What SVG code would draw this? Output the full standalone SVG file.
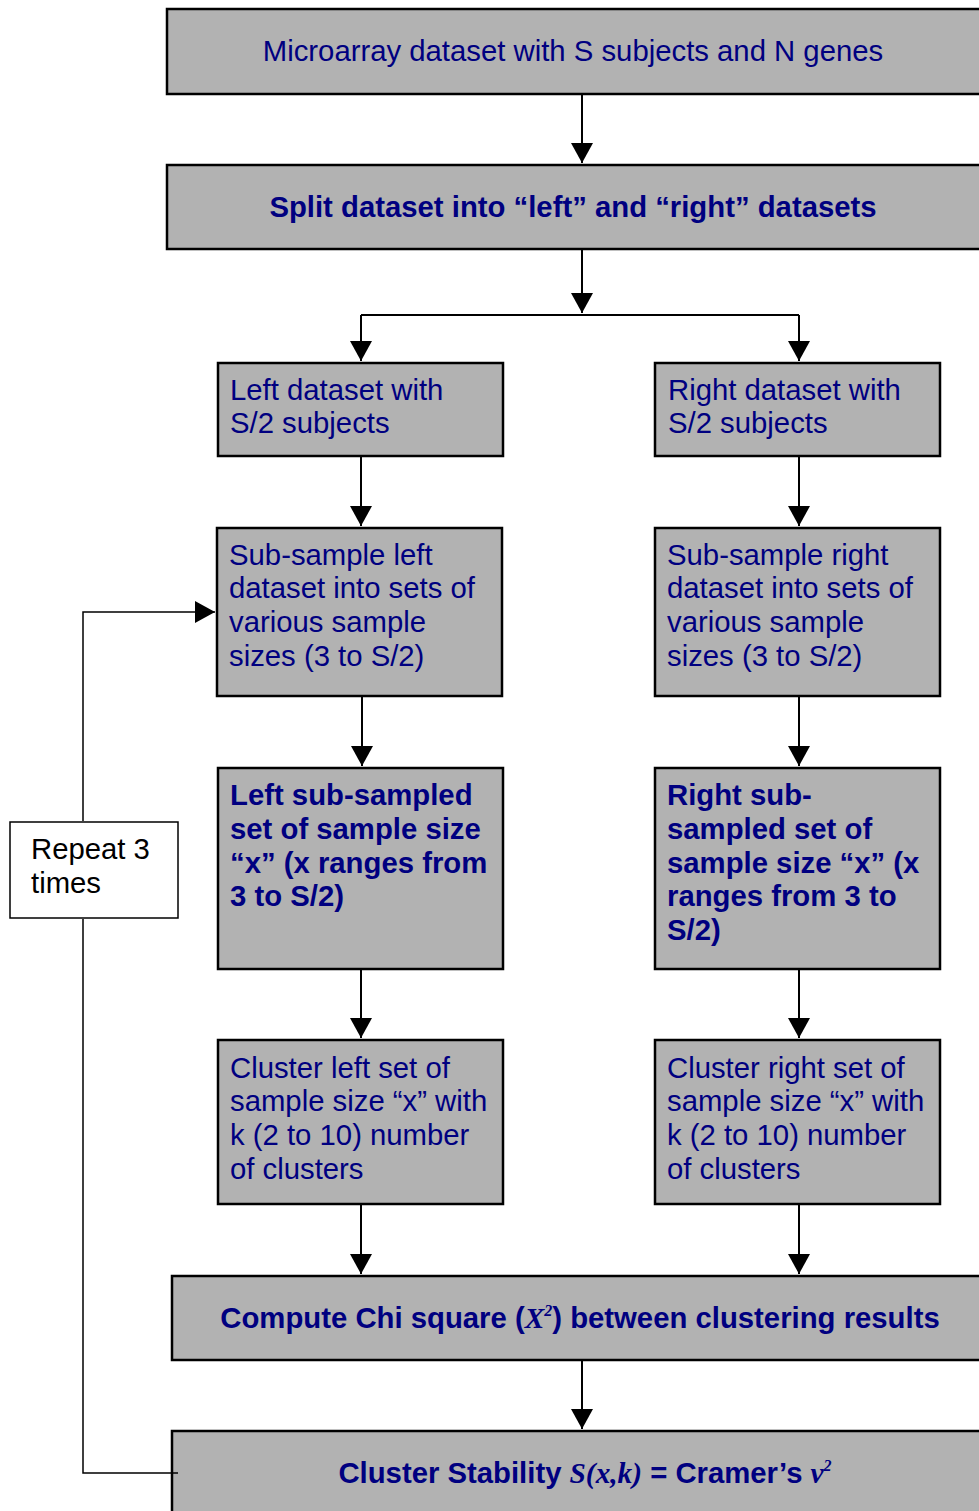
<svg xmlns="http://www.w3.org/2000/svg" width="979" height="1511" viewBox="0 0 979 1511">
<style>
.box{fill:#b2b2b2;stroke:#000;stroke-width:2.5}
.rep{fill:#fff;stroke:#000;stroke-width:1.5}
.t{font-family:"Liberation Sans",Arial,sans-serif;font-size:29.3px;fill:#000080}
.b{font-weight:bold}
.m{font-family:"Liberation Serif","Times New Roman",serif;font-style:italic;font-weight:bold}
.c{text-anchor:middle}
.ln{fill:none;stroke:#000;stroke-width:2}
.ln2{fill:none;stroke:#000;stroke-width:1.5}
</style>
<defs>
<marker id="ah" viewBox="0 0 20 22" refX="20" refY="11" markerWidth="20" markerHeight="22" markerUnits="userSpaceOnUse" orient="auto">
<path d="M0,0 L20,11 L0,22 z" fill="#000"/>
</marker>
</defs>
<g id="n1"><rect class="box" x="167" y="9" width="820" height="85"/>
<text class="t c" x="573" y="61">Microarray dataset with S subjects and N genes</text></g>
<g id="n2"><rect class="box" x="167" y="165" width="820" height="84"/>
<text class="t b c" x="573" y="217">Split dataset into “left” and “right” datasets</text></g>
<g id="n3l"><rect class="box" x="218" y="363" width="285" height="93"/>
<text class="t" x="230" y="400">Left dataset with</text><text class="t" x="230" y="433">S/2 subjects</text></g>
<g id="n3r"><rect class="box" x="655" y="363" width="285" height="93"/>
<text class="t" x="668" y="400">Right dataset with</text><text class="t" x="668" y="433">S/2 subjects</text></g>
<g id="n4l"><rect class="box" x="217" y="528" width="285" height="168"/>
<text class="t" x="229" y="565">Sub-sample left</text><text class="t" x="229" y="598">dataset into sets of</text><text class="t" x="229" y="632">various sample</text><text class="t" x="229" y="666">sizes (3 to S/2)</text></g>
<g id="n4r"><rect class="box" x="655" y="528" width="285" height="168"/>
<text class="t" x="667" y="565">Sub-sample right</text><text class="t" x="667" y="598">dataset into sets of</text><text class="t" x="667" y="632">various sample</text><text class="t" x="667" y="666">sizes (3 to S/2)</text></g>
<g id="n5l"><rect class="box" x="218" y="768" width="285" height="201"/>
<text class="t b" x="230" y="805">Left sub-sampled</text><text class="t b" x="230" y="839">set of sample size</text><text class="t b" x="230" y="873">“x” (x ranges from</text><text class="t b" x="230" y="906">3 to S/2)</text></g>
<g id="n5r"><rect class="box" x="655" y="768" width="285" height="201"/>
<text class="t b" x="667" y="805">Right sub-</text><text class="t b" x="667" y="839">sampled set of</text><text class="t b" x="667" y="873">sample size “x” (x</text><text class="t b" x="667" y="906">ranges from 3 to</text><text class="t b" x="667" y="940">S/2)</text></g>
<g id="n6l"><rect class="box" x="218" y="1040" width="285" height="164"/>
<text class="t" x="230" y="1078">Cluster left set of</text><text class="t" x="230" y="1111">sample size “x” with</text><text class="t" x="230" y="1145">k (2 to 10) number</text><text class="t" x="230" y="1179">of clusters</text></g>
<g id="n6r"><rect class="box" x="655" y="1040" width="285" height="164"/>
<text class="t" x="667" y="1078">Cluster right set of</text><text class="t" x="667" y="1111">sample size “x” with</text><text class="t" x="667" y="1145">k (2 to 10) number</text><text class="t" x="667" y="1179">of clusters</text></g>
<g id="n7"><rect class="box" x="172" y="1276" width="815" height="84"/>
<text class="t b c" x="580" y="1328">Compute Chi square (<tspan class="m">X</tspan><tspan class="m" font-size="16" dy="-12">2</tspan><tspan dy="12">) between clustering results</tspan></text></g>
<g id="n8"><rect class="box" x="172" y="1431" width="815" height="90"/>
<text class="t b c" x="585" y="1483">Cluster Stability <tspan class="m">S(x,k)</tspan> = Cramer’s <tspan class="m">v</tspan><tspan class="m" font-size="16" dy="-12">2</tspan></text></g>
<g id="repeat"><rect class="rep" x="10" y="822" width="168" height="96"/>
<text class="t" x="31" y="859" style="fill:#000">Repeat 3</text><text class="t" x="31" y="893" style="fill:#000">times</text></g>
<g id="connectors">
<path class="ln" d="M582,95 V163" marker-end="url(#ah)"/>
<path class="ln" d="M582,250 V313" marker-end="url(#ah)"/>
<path class="ln" d="M361,315 H799"/>
<path class="ln" d="M361,315 V361" marker-end="url(#ah)"/>
<path class="ln" d="M799,315 V361" marker-end="url(#ah)"/>
<path class="ln" d="M361,457 V526" marker-end="url(#ah)"/>
<path class="ln" d="M799,457 V526" marker-end="url(#ah)"/>
<path class="ln" d="M362,697 V766" marker-end="url(#ah)"/>
<path class="ln" d="M799,697 V766" marker-end="url(#ah)"/>
<path class="ln" d="M361,970 V1038" marker-end="url(#ah)"/>
<path class="ln" d="M799,970 V1038" marker-end="url(#ah)"/>
<path class="ln" d="M361,1205 V1274" marker-end="url(#ah)"/>
<path class="ln" d="M799,1205 V1274" marker-end="url(#ah)"/>
<path class="ln" d="M582,1361 V1429" marker-end="url(#ah)"/>
<path class="ln2" d="M178,1473 H83 V919"/>
<path class="ln2" d="M83,821 V612 H215" marker-end="url(#ah)"/>
</g>
</svg>
